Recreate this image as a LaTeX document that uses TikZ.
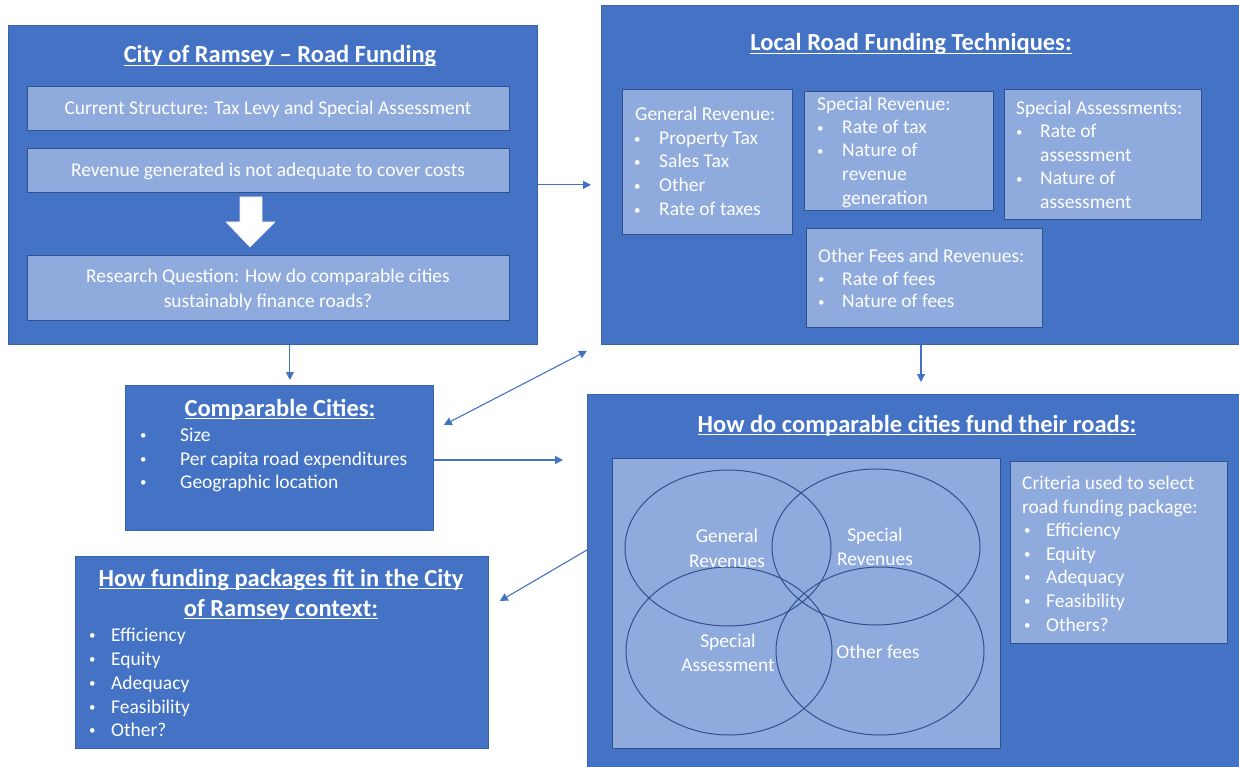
\documentclass[tikz,border=0pt]{standalone}
\usepackage{fontspec}
\setmainfont{Carlito}
\usetikzlibrary{arrows.meta}
\definecolor{boxblue}{HTML}{4472C4}
\definecolor{paleblue}{HTML}{8FAADC}
\definecolor{edgeblue}{HTML}{2F528F}
\newcommand{\bul}[2][25pt]{\makebox[#1][l]{\raisebox{1.5pt}{\fontsize{13}{13}\selectfont\textbullet}}#2}
\newcommand{\myul}[1]{\setbox0\hbox{#1}\rlap{\rule[-3pt]{\wd0}{1.2pt}}\box0}
\tikzstyle{mypicstyle}=[
    x=1pt, y=-1pt,
    >={Triangle[length=8pt,width=8pt]},
]
\tikzstyle{mybigbox}=[draw=edgeblue!50!boxblue, fill=boxblue, line width=0.8pt, inner sep=0pt, anchor=north west]
\tikzstyle{mysubbox}=[draw=edgeblue, fill=paleblue, line width=1pt, inner sep=0pt, anchor=north west]
\tikzstyle{mytitle}=[text=white, anchor=base, inner sep=0pt, font=\fontsize{24.5}{30}\selectfont\bfseries]
\tikzstyle{mytext}=[text=white, anchor=base west, inner sep=0pt, font=\fontsize{19.5}{24}\selectfont]
\tikzstyle{mymid}=[mytext, anchor=base]
\tikzstyle{myarrow}=[boxblue, line width=1.1pt, ->]

\begin{document}
\begin{tikzpicture}[mypicstyle]
        \useasboundingbox (0,0) rectangle (1239,767);
        % boxes
        \node (city) at (8,25) [mybigbox, minimum width=529, minimum height=319] {};
        \node (cur) at (27,86) [mysubbox, minimum width=482, minimum height=44] {};
        \node (rev) at (27,148) [mysubbox, minimum width=482, minimum height=44] {};
        \node (rq) at (27,255) [mysubbox, minimum width=482, minimum height=65] {};
        \node (tech) at (601,5) [mybigbox, minimum width=640, minimum height=339] {};
        \node (genrev) at (622,89) [mysubbox, minimum width=170, minimum height=145] {};
        \node (sprev) at (804,91) [mysubbox, minimum width=189, minimum height=119] {};
        \node (spass) at (1004,89) [mysubbox, minimum width=197, minimum height=130] {};
        \node (ofees) at (806,228) [mysubbox, minimum width=236, minimum height=99] {};
        \node (comp) at (125,385) [mybigbox, minimum width=308, minimum height=145] {};
        \node (pkg) at (75,556) [mybigbox, minimum width=413, minimum height=192] {};
        \node (fund) at (587,394) [mybigbox, minimum width=654, minimum height=375] {};
        \node (venn) at (612,458) [mysubbox, minimum width=388, minimum height=290] {};
        \node (crit) at (1010,461) [mysubbox, minimum width=217, minimum height=182] {};

        % white block arrow
        \draw[fill=white, draw=white!85!gray, line width=0.6pt] (240,197) -- (262,197) -- (262,222) -- (275,222)
            -- (250,247) -- (226,222) -- (240,222) -- cycle;

        % venn circles
        \draw[edgeblue, line width=1pt] (728,548) ellipse [x radius=103pt, y radius=78pt];
        \draw[edgeblue, line width=1pt] (876,547) ellipse [x radius=104pt, y radius=78pt];
        \draw[edgeblue, line width=1pt] (729,651) ellipse [x radius=103pt, y radius=84pt];
        \draw[edgeblue, line width=1pt] (880,651) ellipse [x radius=104pt, y radius=84pt];

        % city of ramsey
        \node (cityt) at (280,63) [mytitle] {\myul{City of Ramsey – Road Funding}};
        \node (curt) at (268,115) [mymid] {Current Structure: Tax Levy and Special Assessment};
        \node (revt) at (268,177) [mymid] {Revenue generated is not adequate to cover costs};
        \node (rqa) at (268,283) [mymid] {Research Question: How do comparable cities};
        \node (rqb) at (268,307) [mymid] {sustainably finance roads?};

        % techniques
        \node (techt) at (911,51) [mytitle] {\myul{Local Road Funding Techniques:}};
        \node (gr0) at (635,121) [mytext] {General Revenue:};
        \node (gr1) at (634,145) [mytext] {\bul{Property Tax}};
        \node (gr2) at (634,168) [mytext] {\bul{Sales Tax}};
        \node (gr3) at (634,192) [mytext] {\bul{Other}};
        \node (gr4) at (634,216) [mytext] {\bul{Rate of taxes}};
        \node (sr0) at (817,111) [mytext] {Special Revenue:};
        \node (sr1) at (817,134) [mytext] {\bul{Rate of tax}};
        \node (sr2) at (817,157) [mytext] {\bul{Nature of}};
        \node (sr3) at (842,181) [mytext] {revenue};
        \node (sr4) at (842,205) [mytext] {generation};
        \node (sa0) at (1016,115) [mytext] {Special Assessments:};
        \node (sa1) at (1016,138) [mytext] {\bul[24pt]{Rate of}};
        \node (sa2) at (1040,162) [mytext] {assessment};
        \node (sa3) at (1016,185) [mytext] {\bul[24pt]{Nature of}};
        \node (sa4) at (1040,209) [mytext] {assessment};
        \node (of0) at (818,262) [mytext] {Other Fees and Revenues:};
        \node (of1) at (818,285) [mytext] {\bul[24pt]{Rate of fees}};
        \node (of2) at (818,308) [mytext] {\bul[24pt]{Nature of fees}};

        % comparable cities
        \node (compt) at (280,416) [mytitle] {\myul{Comparable Cities:}};
        \node (cc1) at (140,441) [mytext] {\bul[40pt]{Size}};
        \node (cc2) at (140,465) [mytext] {\bul[40pt]{Per capita road expenditures}};
        \node (cc3) at (140,488) [mytext] {\bul[40pt]{Geographic location}};

        % funding packages
        \node (pkga) at (281,586) [mytitle] {\myul{How funding packages fit in the City}};
        \node (pkgb) at (281,616) [mytitle] {\myul{of Ramsey context:}};
        \node (pk1) at (89,641) [mytext] {\bul[22pt]{Efficiency}};
        \node (pk2) at (89,665) [mytext] {\bul[22pt]{Equity}};
        \node (pk3) at (89,689) [mytext] {\bul[22pt]{Adequacy}};
        \node (pk4) at (89,713) [mytext] {\bul[22pt]{Feasibility}};
        \node (pk5) at (89,736) [mytext] {\bul[22pt]{Other?}};

        % how do comparable cities fund
        \node (fundt) at (917,432) [mytitle] {\myul{How do comparable cities fund their roads:}};
        \node (vga) at (727,542) [mymid] {General};
        \node (vgb) at (727,567) [mymid] {Revenues};
        \node (vsa) at (875,541) [mymid] {Special};
        \node (vsb) at (875,565) [mymid] {Revenues};
        \node (vaa) at (728,647) [mymid] {Special};
        \node (vab) at (728,671) [mymid] {Assessment};
        \node (vof) at (878,658) [mymid] {Other fees};
        \node (cr0) at (1022,489) [mytext] {Criteria used to select};
        \node (cr1) at (1022,513) [mytext] {road funding package:};
        \node (cr2) at (1024,536) [mytext] {\bul[22pt]{Efficiency}};
        \node (cr3) at (1024,560) [mytext] {\bul[22pt]{Equity}};
        \node (cr4) at (1024,583) [mytext] {\bul[22pt]{Adequacy}};
        \node (cr5) at (1024,607) [mytext] {\bul[22pt]{Feasibility}};
        \node (cr6) at (1024,631) [mytext] {\bul[22pt]{Others?}};

        % connectors
        \coordinate (cityout) at ([xshift=17pt]city.south);
        \coordinate (compin) at ([xshift=-14pt, yshift=-6pt]tech.south west);
        \coordinate (compside) at ([shift={(10,40)}]comp.north east);
        \coordinate (fundout) at (fund.west |- 0,550);
        \coordinate (pkgin) at ([xshift=11pt]pkg.east |- 0,601);
        \coordinate (techout) at (tech.south -| 921,0);
        \draw[myarrow, shorten >=10pt] (city.east) -- (city.east -| tech.west);
        \draw[myarrow, shorten >=5pt] (cityout) -- (cityout |- comp.north);
        \draw[myarrow, <->] (compside) -- (compin);
        \draw[myarrow, shorten >=24pt] (comp.east |- 0,460) -- (fund.west |- 0,460);
        \draw[myarrow, shorten >=12pt] (techout) -- (techout |- fund.north);
        \draw[myarrow] (fundout) -- (pkgin);
    \end{tikzpicture}
\end{document}
